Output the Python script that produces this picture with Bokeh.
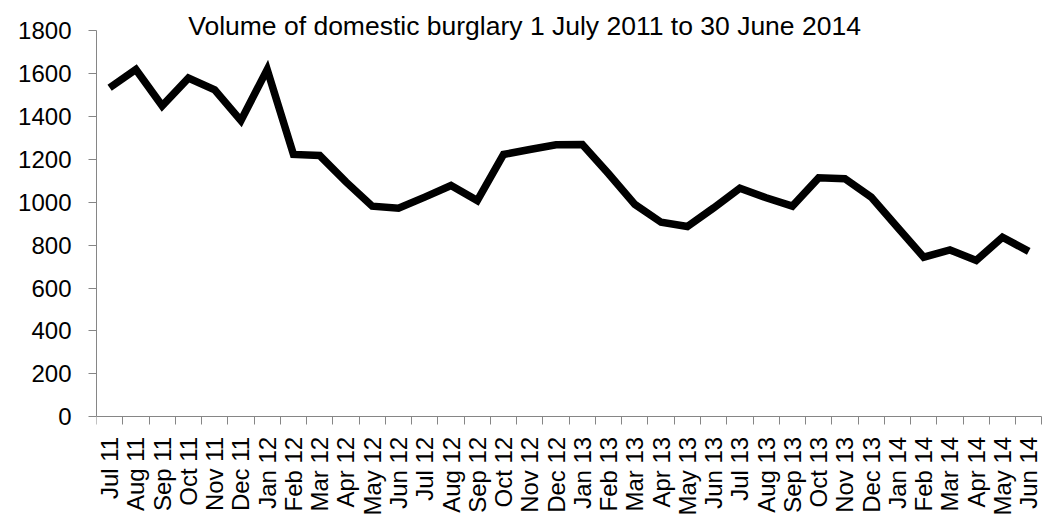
import math
from bokeh.plotting import figure
from bokeh.models import Range1d, FixedTicker, LinearAxis, Label
from bokeh.core.properties import value
from bokeh.embed import file_html
from bokeh.resources import INLINE

months = ["Jul 11", "Aug 11", "Sep 11", "Oct 11", "Nov 11", "Dec 11",
          "Jan 12", "Feb 12", "Mar 12", "Apr 12", "May 12", "Jun 12",
          "Jul 12", "Aug 12", "Sep 12", "Oct 12", "Nov 12", "Dec 12",
          "Jan 13", "Feb 13", "Mar 13", "Apr 13", "May 13", "Jun 13",
          "Jul 13", "Aug 13", "Sep 13", "Oct 13", "Nov 13", "Dec 13",
          "Jan 14", "Feb 14", "Mar 14", "Apr 14", "May 14", "Jun 14"]
volume = [1534, 1619, 1450, 1579, 1524, 1381,
          1619, 1223, 1218, 1095, 982, 972,
          1024, 1078, 1008, 1223, 1246, 1268,
          1269, 1133, 990, 907, 887, 974,
          1066, 1021, 982, 1114, 1110, 1024,
          884, 744, 778, 729, 837, 771]
y_ticks = [0, 200, 400, 600, 800, 1000, 1200, 1400, 1600, 1800]
title_text = "Volume of domestic burglary 1 July 2011 to 30 June 2014"

centers = [i + 0.5 for i in range(len(months))]
bounds = [float(i) for i in range(len(months) + 1)]

p = figure(width=1044, height=517, output_backend="svg", toolbar_location=None,
           x_range=Range1d(0, 36.1), y_range=Range1d(-469.5, 1940.8),
           x_axis_type=None, min_border_left=96, min_border_right=0,
           min_border_top=0, min_border_bottom=0)
p.outline_line_color = None
p.xgrid.visible = False
p.ygrid.visible = False
p.background_fill_color = "white"
p.border_fill_color = "white"

axis_grey = "#868686"
font = "Liberation Sans"

# y axis
ya = p.yaxis[0]
ya.ticker = FixedTicker(ticks=y_ticks)
ya.bounds = (0, 1800)
ya.axis_line_color = axis_grey
ya.major_tick_line_color = axis_grey
ya.major_tick_out = 8
ya.major_tick_in = 0
ya.minor_tick_line_color = None
ya.major_label_text_font = font
ya.major_label_text_font_size = "24px"
ya.major_label_text_color = "black"
ya.major_label_standoff = 17

# x axis drawn at y = 0, ticks between categories
xa = LinearAxis(ticker=FixedTicker(ticks=[], minor_ticks=bounds), fixed_location=0)
xa.bounds = (0, 36)
xa.axis_line_color = axis_grey
xa.major_tick_line_color = None
xa.major_tick_out = 0
xa.major_tick_in = 0
xa.minor_tick_line_color = axis_grey
xa.minor_tick_out = 8
xa.minor_tick_in = 0
xa.major_label_text_font_size = "0px"
xa.major_label_standoff = 0
p.add_layout(xa, "below")

# category labels, rotated, under the axis
p.text(x=centers, y=[0] * len(centers), text=months, angle=math.pi / 2,
       text_align="right", text_baseline="middle", y_offset=20,
       text_font=value(font), text_font_size="24px", text_color="black")

p.line(centers, volume, line_color="black", line_width=7.5, line_join="miter")

title = Label(x=16.3, y=1823, text=title_text, text_align="center",
              text_baseline="alphabetic", text_font=font,
              text_font_size="26.5px", text_color="black")
p.add_layout(title)

open("out.html", "w").write(file_html(p, INLINE))
